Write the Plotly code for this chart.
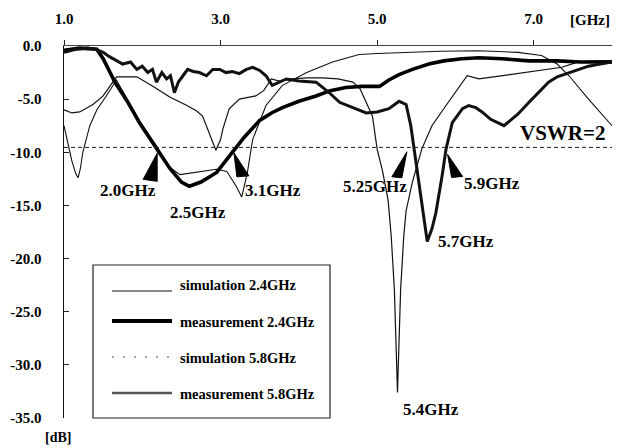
import plotly.graph_objects as go

# ---------------- data ----------------
sim24_f = [1.0, 1.05, 1.1, 1.15, 1.18, 1.21, 1.24, 1.33, 1.42, 1.54, 1.67, 1.8, 1.97, 2.18, 2.35,
           2.48, 2.69, 2.95, 3.08, 3.2, 3.27, 3.34, 3.41, 3.58, 3.79, 4.1, 4.43, 4.77, 5.0, 5.37,
           5.8, 6.3, 6.8, 7.1, 7.3, 7.45, 7.7, 8.0]
sim24_db = [-7.5, -9.0, -10.8, -12.0, -12.4, -11.5, -10.0, -7.5, -6.0, -4.7, -3.2, -4.9, -7.1, -9.4, -11.4,
            -12.1, -11.9, -11.6, -11.8, -13.2, -14.2, -12.0, -8.8, -5.6, -3.7, -2.5, -1.5, -0.8, -0.7, -0.6,
            -0.5, -0.45, -0.6, -0.9, -1.7, -2.8, -5.0, -7.5]

meas24_f = [1.0, 1.2, 1.42, 1.5, 1.65, 1.8, 1.97, 2.18, 2.35, 2.5, 2.6, 2.75, 2.95, 3.12, 3.3,
            3.5, 3.65, 3.79, 4.0, 4.22, 4.4, 4.6, 4.8, 5.03, 5.15, 5.28, 5.45, 5.66, 5.85, 6.08,
            6.3, 6.6, 6.94, 7.3, 7.6, 8.0]
meas24_db = [-0.4, -0.2, -0.3, -1.2, -3.4, -5.1, -7.3, -9.6, -11.5, -12.8, -13.2, -12.8, -11.9, -10.3, -8.6,
             -7.0, -6.3, -5.8, -5.2, -4.7, -4.2, -3.9, -3.8, -3.8, -3.2, -2.7, -2.2, -1.7, -1.4, -1.2,
             -1.1, -1.2, -1.4, -1.4, -1.5, -1.5]

sim58_f = [1.0, 1.1, 1.2, 1.3, 1.37, 1.5, 1.63, 1.67, 1.8, 1.93, 2.14, 2.35, 2.57, 2.69, 2.77,
           2.82, 2.9, 2.94, 3.0, 3.03, 3.11, 3.24, 3.45, 3.55, 3.65, 3.75, 3.9, 4.1, 4.3, 4.5,
           4.69, 4.78, 4.86, 4.94, 5.0, 5.07, 5.14, 5.18, 5.22, 5.26, 5.3, 5.34, 5.37, 5.45, 5.57,
           5.7, 5.88, 6.04, 6.15, 6.3, 6.6, 7.0, 7.36, 7.57, 7.8, 8.0]
sim58_db = [-6.0, -6.3, -6.2, -5.8, -5.5, -4.7, -3.3, -2.9, -2.9, -2.9, -3.8, -4.8, -5.6, -6.1, -6.6,
            -7.5, -9.1, -9.8, -8.8, -7.8, -5.9, -5.0, -4.7, -4.2, -3.1, -3.3, -3.1, -3.0, -3.0, -3.1,
            -3.4, -4.0, -5.3, -6.6, -9.7, -11.8, -14.5, -17.9, -22.9, -32.6, -22.9, -17.9, -15.5, -12.8, -9.7,
            -7.5, -5.6, -4.0, -2.8, -3.1, -2.8, -2.4, -2.0, -1.5, -1.4, -1.4]

meas58_f = [1.0, 1.15, 1.3, 1.4, 1.5, 1.58, 1.75, 1.85, 1.93, 2.0, 2.07, 2.13, 2.18, 2.25, 2.31,
            2.36, 2.41, 2.46, 2.52, 2.58, 2.65, 2.73, 2.82, 2.9, 2.99, 3.07, 3.15, 3.24, 3.33, 3.41,
            3.5, 3.58, 3.66, 3.75, 3.84, 4.0, 4.13, 4.22, 4.39, 4.52, 4.69, 4.86, 5.0, 5.15, 5.28,
            5.37, 5.43, 5.5, 5.57, 5.64, 5.7, 5.75, 5.83, 5.88, 5.96, 6.09, 6.17, 6.26, 6.34, 6.45,
            6.62, 6.7, 6.8, 6.94, 7.05, 7.19, 7.3, 7.45, 7.6, 7.7, 7.85, 8.0]
meas58_db = [-0.6, -0.3, -0.2, -0.3, -0.6, -1.0, -1.7, -1.5, -2.2, -1.9, -2.5, -2.2, -3.4, -2.5, -3.1,
             -2.8, -4.4, -3.4, -2.8, -2.2, -2.4, -2.5, -2.8, -2.2, -2.2, -2.5, -2.4, -2.6, -2.2, -2.0,
             -2.3, -2.8, -3.7, -3.4, -3.1, -3.3, -3.4, -3.4, -4.4, -5.3, -5.8, -6.3, -6.2, -5.9, -5.2,
             -5.5, -7.5, -11.3, -15.0, -18.4, -17.2, -15.7, -12.2, -9.7, -7.2, -5.9, -5.6, -5.8, -6.2, -6.9,
             -7.5, -7.0, -6.4, -5.3, -4.5, -3.4, -2.9, -2.5, -2.1, -1.9, -1.7, -1.5]

vswr2_db = -9.54

xtick_vals = [1, 3, 5, 7]
xtick_text = ["1.0", "3.0", "5.0", "7.0"]
ytick_vals = [0, -5, -10, -15, -20, -25, -30, -35]
ytick_text = ["0.0", "-5.0", "-10.0", "-15.0", "-20.0", "-25.0", "-30.0", "-35.0"]

label_text = ["2.0GHz", "2.5GHz", "3.1GHz", "5.25GHz", "5.9GHz", "5.7GHz", "5.4GHz"]
label_f = [1.82, 2.71, 3.67, 4.97, 6.47, 6.13, 5.69]
label_db = [-13.55, -15.7, -13.55, -13.26, -12.9, -18.4, -34.2]

arrow_tip_f = [2.19, 3.17, 5.38, 5.90]
arrow_tip_db = [-10.1, -10.05, -9.95, -10.2]

legend_names = ["simulation 2.4GHz", "measurement 2.4GHz", "simulation 5.8GHz", "measurement 5.8GHz"]

# ---------------- layout geometry ----------------
W, H = 626, 448
ML, MR, MT, MB = 64, 14, 46, 30
PW, PH = W - ML - MR, H - MT - MB
X0, X1, Y0, Y1 = 1.0, 8.0, -35.0, 0.0
pxx = PW / (X1 - X0)
pxy = PH / (Y1 - Y0)

def paper(px, py):
    return (px - ML) / PW, (H - MB - py) / PH

FONT = "Liberation Serif"

fig = go.Figure()

series = [
    (sim24_f, sim24_db, dict(color="#111", width=1.1)),
    (sim58_f, sim58_db, dict(color="#111", width=1.2)),
    (meas24_f, meas24_db, dict(color="#000", width=3.6)),
    (meas58_f, meas58_db, dict(color="#111", width=3.0)),
]
for fx, fy, ln in series:
    fig.add_trace(go.Scatter(x=fx, y=fy, mode="lines", line=ln, showlegend=False, hoverinfo="skip"))

shapes = []
# VSWR=2 dashed line
shapes.append(dict(type="line", xref="x", yref="y", x0=X0, x1=X1, y0=vswr2_db, y1=vswr2_db,
                   line=dict(color="#222", width=1, dash="4px,3px")))

# arrow triangles (pixel offsets from tip)
tri_offsets = [[(-14, 26), (0, 28)], [(3, 24), (15, 23)], [(-15, 25), (-5, 26)], [(4, 23), (15, 22)]]
for tf, td, offs in zip(arrow_tip_f, arrow_tip_db, tri_offsets):
    pts = [(tf, td)] + [(tf + dx / pxx, td - dy / pxy) for dx, dy in offs]
    path = "M {} {} L {} {} L {} {} Z".format(*[v for p in pts for v in p])
    shapes.append(dict(type="path", xref="x", yref="y", path=path,
                       fillcolor="#000", line=dict(color="#000", width=1)))

# manual legend box
bx0, by0 = paper(93, 265)
bx1, by1 = paper(330, 418)
shapes.append(dict(type="rect", xref="paper", yref="paper", x0=bx0, y0=by1, x1=bx1, y1=by0,
                   line=dict(color="#222", width=1.2), fillcolor="white", layer="above"))

leg_text_y = [285, 322, 358, 394]
leg_line_y = [291, 321, 357, 393]
leg_styles = [dict(color="#111", width=1.1),
              dict(color="#000", width=4),
              dict(color="#888", width=1.5, dash="2px,9px"),
              dict(color="#555", width=2.5)]
annotations = []
for name, ty, ly, st in zip(legend_names, leg_text_y, leg_line_y, leg_styles):
    lx0, lyp = paper(112, ly)
    lx1, _ = paper(172, ly)
    shapes.append(dict(type="line", xref="paper", yref="paper", x0=lx0, x1=lx1, y0=lyp, y1=lyp,
                       line=st, layer="above"))
    tx, typ = paper(178, ty)
    annotations.append(dict(xref="paper", yref="paper", x=tx, y=typ, text=name, showarrow=False,
                            xanchor="left", yanchor="middle",
                            font=dict(family=FONT, size=14.5, color="#000", weight="bold")))

# band labels
for t, lf, ld in zip(label_text, label_f, label_db):
    annotations.append(dict(xref="x", yref="y", x=lf, y=ld, text=t, showarrow=False,
                            xanchor="center", yanchor="middle",
                            font=dict(family=FONT, size=17, color="#000", weight="bold")))

annotations.append(dict(xref="x", yref="y", x=7.37, y=-8.2, text="VSWR=2", showarrow=False,
                        xanchor="center", yanchor="middle",
                        font=dict(family=FONT, size=21, color="#000", weight="bold")))

gx, gy = paper(590, 20)
annotations.append(dict(xref="paper", yref="paper", x=gx, y=gy, text="[GHz]", showarrow=False,
                        xanchor="center", yanchor="middle",
                        font=dict(family=FONT, size=15, color="#000", weight="bold")))
dx_, dy_ = paper(58, 437)
annotations.append(dict(xref="paper", yref="paper", x=dx_, y=dy_, text="[dB]", showarrow=False,
                        xanchor="center", yanchor="middle",
                        font=dict(family=FONT, size=14, color="#000", weight="bold")))

fig.update_layout(
    template="none",
    width=W, height=H,
    margin=dict(l=ML, r=MR, t=MT, b=MB, pad=0, autoexpand=False),
    paper_bgcolor="white", plot_bgcolor="white",
    shapes=shapes, annotations=annotations, showlegend=False,
    xaxis=dict(range=[X0, X1], side="top", tickvals=xtick_vals, ticktext=xtick_text,
               ticks="outside", ticklen=5, tickcolor="#222", tickwidth=1,
               showline=True, linecolor="#444", linewidth=1, mirror=False,
               showgrid=False, zeroline=False, automargin=False, ticklabelstandoff=10,
               tickfont=dict(family=FONT, size=15, color="#000", weight="bold")),
    yaxis=dict(range=[Y0, Y1], tickvals=ytick_vals, ticktext=ytick_text,
               ticks="inside", ticklen=5, tickcolor="#222", tickwidth=1,
               showline=True, linecolor="#111", linewidth=1.5, mirror=False,
               showgrid=False, zeroline=False, automargin=False, ticklabelstandoff=18,
               tickfont=dict(family=FONT, size=15, color="#000", weight="bold")),
)

fig.write_html("out.html", config={"displayModeBar": False, "staticPlot": True},
               post_script="document.body.style.margin='0';")
